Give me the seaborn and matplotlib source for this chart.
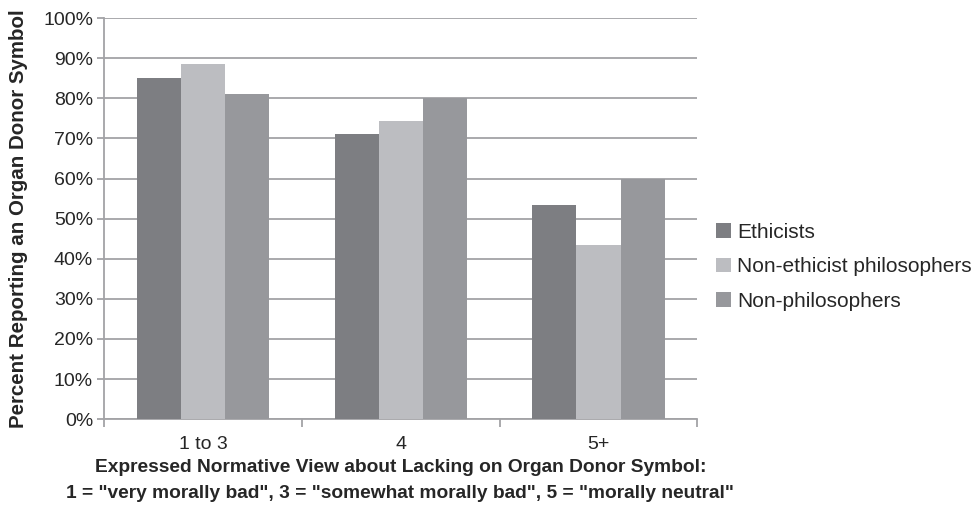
import matplotlib
matplotlib.use('Agg')
import matplotlib.pyplot as plt
import pandas as pd
import seaborn as sns
from matplotlib.ticker import FixedLocator, PercentFormatter

# Values
categories = ['1 to 3', '4', '5+']
groups = ['Ethicists', 'Non-ethicist philosophers', 'Non-philosophers']
ethicists = [85.0, 71.0, 53.4]
non_ethicist_phil = [88.5, 74.3, 43.4]
non_philosophers = [81.0, 80.0, 60.0]
colors = ['#7d7e82', '#bcbdc1', '#97989c']

rows = []
for g, vals in zip(groups, [ethicists, non_ethicist_phil, non_philosophers]):
    for c, v in zip(categories, vals):
        rows.append({'view': c, 'group': g, 'pct': v})
df = pd.DataFrame(rows)

sns.set_style('white')
plt.rcParams['font.family'] = ['Liberation Sans', 'DejaVu Sans']

fig = plt.figure(figsize=(9.74, 5.30), dpi=100)
ax = fig.add_axes([0.107, 0.209, 0.609, 0.757])

sns.barplot(data=df, x='view', y='pct', hue='group', order=categories,
            hue_order=groups, palette=colors, width=0.67, saturation=1,
            linewidth=0, ax=ax, zorder=3)

ax.set_ylim(0, 100)
ax.set_xlim(-0.5, 2.5)
ax.set_yticks(range(0, 101, 10))
ax.yaxis.set_major_formatter(PercentFormatter(decimals=0))
ax.yaxis.grid(True, color='#a3a3a6', linewidth=1.3, zorder=0)
ax.set_axisbelow(True)

for s in ['top', 'right']:
    ax.spines[s].set_visible(False)
for s in ['left', 'bottom']:
    ax.spines[s].set_color('#a3a3a6')
    ax.spines[s].set_linewidth(1.3)

ax.tick_params(axis='y', which='major', length=5, color='#a3a3a6', width=1.3,
               labelsize=14, pad=3, left=True)
ax.tick_params(axis='x', which='major', length=0, labelsize=14, pad=12)
ax.xaxis.set_minor_locator(FixedLocator([-0.5, 0.5, 1.5, 2.5]))
ax.tick_params(axis='x', which='minor', length=6, color='#a3a3a6', width=1.3,
               bottom=True)

ax.set_ylabel('Percent Reporting an Organ Donor Symbol', fontsize=14.8,
              fontweight='bold', labelpad=11)
ax.set_xlabel('')
fig.text(0.411, 0.118, 'Expressed Normative View about Lacking on Organ Donor Symbol:',
         ha='center', va='center', fontsize=13.8, fontweight='bold')
fig.text(0.411, 0.069,
         '1 = "very morally bad", 3 = "somewhat morally bad", 5 = "morally neutral"',
         ha='center', va='center', fontsize=13.8, fontweight='bold')

ax.legend(loc='center left', bbox_to_anchor=(1.018, 0.38), frameon=False,
          fontsize=15, handlelength=0.7, handleheight=0.7,
          handletextpad=0.3, labelspacing=0.75, borderaxespad=0)

fig.savefig('out.png', dpi=100)
